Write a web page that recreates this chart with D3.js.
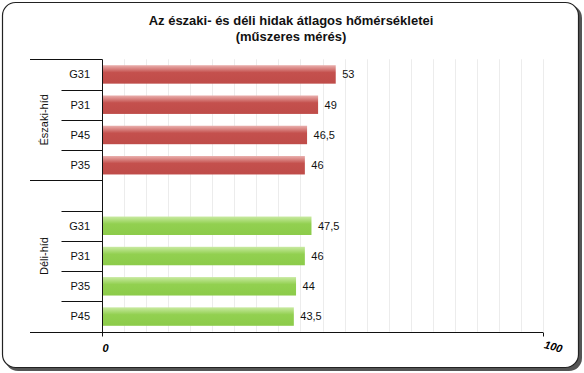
<!DOCTYPE html>
<html>
<head>
<meta charset="utf-8">
<script src="https://cdn.jsdelivr.net/npm/d3@7"></script>
<style>
  body { margin: 0; background: #fff; }
  text { font-family: Arial, "Liberation Sans", sans-serif; }
</style>
</head>
<body>
<script>
// adatok
const groups = ["Északi-híd", "Déli-híd"];
const northCats = ["G31", "P31", "P45", "P35"];
const northVals = [53, 49, 46.5, 46];
const southCats = ["G31", "P31", "P35", "P45"];
const southVals = [47.5, 46, 44, 43.5];
const xTicks = [0, 100];
const title = ["Az északi- és déli hidak átlagos hőmérsékletei", "(műszeres mérés)"];

const W = 584, H = 373;
const svg = d3.select("body").append("svg").attr("width", W).attr("height", H);

// keret + árnyék
svg.append("rect").attr("x", 5).attr("y", 5).attr("width", 577).attr("height", 366)
  .attr("rx", 13).attr("fill", "#555");
svg.append("rect").attr("x", 2.5).attr("y", 2.5).attr("width", 576).attr("height", 365)
  .attr("rx", 13).attr("fill", "#fff").attr("stroke", "#222").attr("stroke-width", 1.2);

// sorok
const rows = [];
northCats.forEach((c, i) => rows.push({ key: "N" + c, cat: c, v: northVals[i], g: 0 }));
rows.push({ key: "gap", cat: "", v: null, g: 1 });
southCats.forEach((c, i) => rows.push({ key: "S" + c, cat: c, v: southVals[i], g: 1 }));

const plotTop = 59.3, plotBottom = 331.7, plotLeft = 102, plotRight = 543;
const pad = 0.39;
const y = d3.scaleBand().domain(rows.map(d => d.key)).range([plotTop, plotBottom])
  .paddingInner(pad).paddingOuter(pad / 2);
const x = d3.scaleLinear().domain([0, 100]).range([plotLeft, plotRight]);
const step = y.step();
const rowTop = k => y(k) - step * pad / 2;

// rácsvonalak
svg.append("g").selectAll("line").data(d3.range(0, 101, 5)).join("line")
  .attr("x1", d => Math.round(x(d)) + 0.5).attr("x2", d => Math.round(x(d)) + 0.5)
  .attr("y1", plotTop).attr("y2", plotBottom)
  .attr("stroke", "#ececec").attr("stroke-width", 1);

// színátmenetek
const defs = svg.append("defs");
function grad(id, light, base, dark) {
  const g = defs.append("linearGradient").attr("id", id)
    .attr("x1", 0).attr("y1", 0).attr("x2", 0).attr("y2", 1);
  g.append("stop").attr("offset", "0%").attr("stop-color", light);
  g.append("stop").attr("offset", "40%").attr("stop-color", base);
  g.append("stop").attr("offset", "100%").attr("stop-color", dark);
}
grad("gRed", "#eab0ae", "#c4504d", "#bf4c49");
grad("gGreen", "#c9eaa2", "#92d050", "#8ccb4a");

const data = rows.filter(d => d.v !== null);
svg.append("g").selectAll("rect").data(data).join("rect")
  .attr("x", x(0) + 1)
  .attr("y", d => y(d.key))
  .attr("width", d => x(d.v) - x(0) - 1)
  .attr("height", y.bandwidth())
  .attr("fill", d => d.g === 0 ? "url(#gRed)" : "url(#gGreen)");

// értékcímkék
const loc = d3.formatLocale({ decimal: ",", thousands: " ", grouping: [3], currency: ["", ""] });
const fmt = v => Number.isInteger(v) ? String(v) : loc.format(".1f")(v);
svg.append("g").selectAll("text").data(data).join("text")
  .attr("x", d => x(d.v) + 6.5)
  .attr("y", d => y(d.key) + y.bandwidth() / 2)
  .attr("dy", "0.35em")
  .attr("font-size", 11).attr("fill", "#111")
  .text(d => fmt(d.v));

// kategóriák
svg.append("g").selectAll("text").data(data).join("text")
  .attr("x", 90)
  .attr("y", d => y(d.key) + y.bandwidth() / 2)
  .attr("dy", "0.35em")
  .attr("text-anchor", "end")
  .attr("font-size", 11).attr("fill", "#111")
  .text(d => d.cat);

// bal tengely
const axis = svg.append("g").attr("stroke", "#111").attr("stroke-width", 1);
axis.append("line").attr("x1", plotLeft + 0.5).attr("x2", plotLeft + 0.5)
  .attr("y1", plotTop).attr("y2", plotBottom + 4);
rows.forEach((d, i) => {
  if (i === 0) return;
  const yy = Math.round(rowTop(d.key)) + 0.5;
  const outer = rows[i - 1].g !== d.g;
  axis.append("line").attr("x1", outer ? 30 : 61.5).attr("x2", plotLeft).attr("y1", yy).attr("y2", yy);
});
axis.append("line").attr("x1", 30).attr("x2", plotLeft)
  .attr("y1", Math.round(plotTop) + 0.5).attr("y2", Math.round(plotTop) + 0.5);

// alsó tengely
const yb = Math.round(plotBottom) + 0.5;
axis.append("line").attr("x1", 30).attr("x2", plotRight).attr("y1", yb).attr("y2", yb);
xTicks.forEach(t => {
  axis.append("line").attr("x1", Math.round(x(t)) + 0.5).attr("x2", Math.round(x(t)) + 0.5)
    .attr("y1", yb).attr("y2", yb + 4);
});
svg.append("text").attr("x", x(0) + 0.5).attr("y", 352)
  .attr("font-size", 11).attr("font-weight", "bold").attr("font-style", "italic")
  .text(xTicks[0]);
svg.append("text").attr("transform", `translate(${x(100) + 0.5},${348}) rotate(15)`)
  .attr("font-size", 11).attr("font-weight", "bold").attr("font-style", "italic")
  .text(xTicks[1]);

// csoportcímkék
const gSpans = [[plotTop, rowTop("gap")], [rowTop("gap"), plotBottom]];
groups.forEach((g, i) => {
  const cy = (gSpans[i][0] + gSpans[i][1]) / 2;
  svg.append("text").attr("transform", `translate(44.5,${cy}) rotate(-90)`)
    .attr("text-anchor", "middle").attr("dy", "0.35em")
    .attr("font-size", 11).attr("fill", "#111")
    .text(g);
});

// cím
svg.append("g").selectAll("text").data(title).join("text")
  .attr("x", 291).attr("y", (d, i) => 25 + i * 15.5)
  .attr("text-anchor", "middle")
  .attr("font-size", 13).attr("font-weight", "bold").attr("fill", "#111")
  .text(d => d);
</script>
</body>
</html>
